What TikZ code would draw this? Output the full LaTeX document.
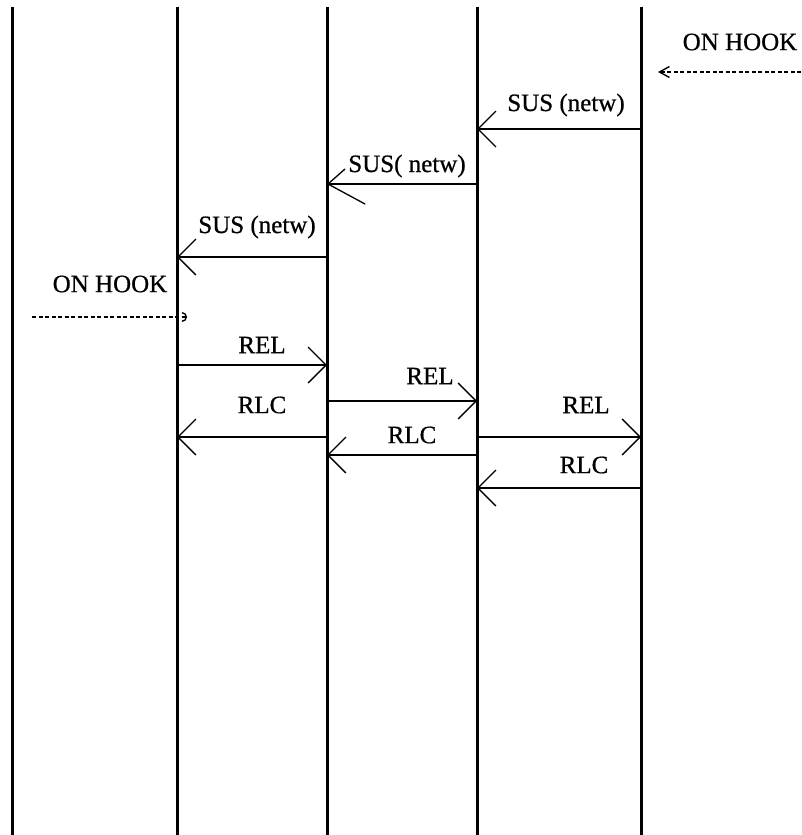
\documentclass[tikz,border=0pt]{standalone}
\usepackage{fontspec}
\setmainfont[UprightFeatures={FakeBold=0.7}]{Liberation Serif}
\usetikzlibrary{arrows.meta}
\begin{document}
\begin{tikzpicture}[x=1pt,y=-1pt,
  life/.style={line width=3pt},
  msgline/.style={line width=1.3pt},
  msg/.style={msgline,-{Straight Barb[length=18pt,width=36pt]}},
  hookline/.style={line width=1.2pt,dash pattern=on 4pt off 2.5pt},
  lbl/.style={font=\fontsize{25}{29}\selectfont,inner sep=0pt}]
\useasboundingbox (0,0) rectangle (801,835);
\fill[white] (0,0) rectangle (801,835);
% lifelines
\foreach \n/\x in {A/12,B/177,C/327,D/477,E/641}{
  \coordinate (\n top) at (\x,7);
  \coordinate (\n bot) at (\x,835);
  \draw[life] (\n top) -- (\n bot);
}
% ON HOOK right
\node[lbl] (onhookR) at (740,42) {ON HOOK};
\coordinate (hRs) at (801,72);
\coordinate (hRe) at (658,72);
\draw[hookline,-{Straight Barb[length=10pt,width=11pt,line width=1.4pt]}] (hRs) -- (hRe);
% SUS 1
\coordinate (s1a) at (641,129);
\coordinate (s1b) at (477,129);
\draw[msg] (s1a) -- (s1b);
\node[lbl] (sus1) at (566,105) {SUS (netw)};
% SUS 2 (asymmetric open head)
\coordinate (s2a) at (477,184);
\coordinate (s2b) at (328,184);
\draw[msgline] (s2a) -- (s2b);
\draw[msgline,line cap=round,line join=miter] (s2b) ++(17,-15) -- (s2b) -- ++(37,20);
\node[lbl] (sus2) at (407,166) {SUS( netw)};
% SUS 3
\coordinate (s3a) at (327,257);
\coordinate (s3b) at (177,257);
\draw[msg] (s3a) -- (s3b);
\node[lbl] (sus3) at (257,227) {SUS (netw)};
% ON HOOK left
\node[lbl] (onhookL) at (110,284) {ON HOOK};
\coordinate (hLs) at (32,317);
\coordinate (hLe) at (187,317);
\draw[hookline,-{Arc Barb[length=5pt,width=10pt,line width=1.4pt]}] (hLs) -- (hLe);
% REL 1
\coordinate (r1a) at (177,365);
\coordinate (r1b) at (327,365);
\draw[msg] (r1a) -- (r1b);
\node[lbl] (rel1) at (262,345) {REL};
% REL 2
\coordinate (r2a) at (327,401);
\coordinate (r2b) at (477,401);
\draw[msg] (r2a) -- (r2b);
\node[lbl] (rel2) at (430,376) {REL};
% RLC 1
\coordinate (c1a) at (327,437);
\coordinate (c1b) at (177,437);
\draw[msg] (c1a) -- (c1b);
\node[lbl] (rlc1) at (262,405) {RLC};
% RLC 2
\coordinate (c2a) at (477,455);
\coordinate (c2b) at (327,455);
\draw[msg] (c2a) -- (c2b);
\node[lbl] (rlc2) at (412,435) {RLC};
% REL 3
\coordinate (r3a) at (477,437);
\coordinate (r3b) at (641,437);
\draw[msg] (r3a) -- (r3b);
\node[lbl] (rel3) at (586,405) {REL};
% RLC 3
\coordinate (c3a) at (641,488);
\coordinate (c3b) at (477,488);
\draw[msg] (c3a) -- (c3b);
\node[lbl] (rlc3) at (584,465) {RLC};
\end{tikzpicture}
\end{document}
